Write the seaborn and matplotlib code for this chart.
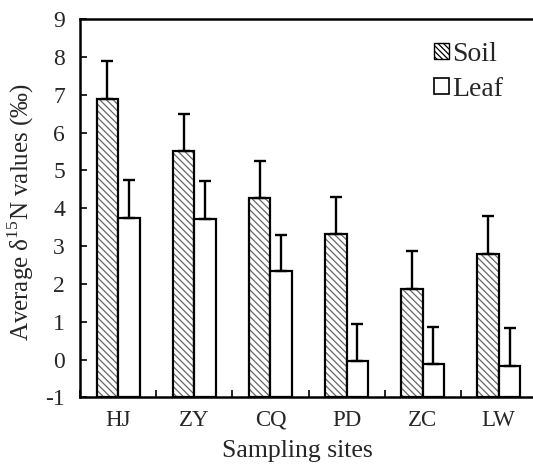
import matplotlib
matplotlib.use("Agg")
import matplotlib.pyplot as plt
import seaborn as sns
import pandas as pd
import numpy as np
from matplotlib.colors import to_rgba
from matplotlib.patches import Patch

sites = ["HJ", "ZY", "CQ", "PD", "ZC", "LW"]
soil_mean = [6.89, 5.52, 4.27, 3.33, 1.87, 2.80]
soil_err = [1.02, 0.97, 0.97, 0.97, 1.00, 0.99]
leaf_mean = [3.74, 3.71, 2.33, -0.04, -0.11, -0.17]
leaf_err = [1.00, 1.00, 0.97, 0.97, 0.97, 1.00]
series = ["Soil", "Leaf"]
yticks = [-1, 0, 1, 2, 3, 4, 5, 6, 7, 8, 9]

df = pd.DataFrame({
    "site": sites * 2,
    "kind": [series[0]] * len(sites) + [series[1]] * len(sites),
    "value": soil_mean + leaf_mean,
})

sns.set_style("white")
plt.rcParams["font.family"] = ["Liberation Serif", "DejaVu Serif"]
plt.rcParams["mathtext.fontset"] = "custom"
plt.rcParams["mathtext.rm"] = "Liberation Serif"
plt.rcParams["hatch.linewidth"] = 0.9

fig = plt.figure(figsize=(5.33, 4.67), dpi=100)
W, H = 533, 467
left, right, top, bottom = 80.3, 536.7, 19.3, 397.3
ax = fig.add_axes([left / W, 1 - bottom / H, (right - left) / W, (bottom - top) / H])

sns.barplot(data=df, x="site", y="value", hue="kind", order=sites,
            hue_order=series, palette=["white", "white"], width=0.57,
            edgecolor="black", linewidth=1.6, errorbar=None, ax=ax,
            legend=False, saturation=1)

base = -1
bars = [p for p in ax.patches]
n = len(sites)
soil_bars = bars[:n]
leaf_bars = bars[n:2 * n]
for p in bars:
    h = p.get_height()
    p.set_y(base)
    p.set_height(h - base)

for p in soil_bars:
    p.set_hatch("\\\\\\\\\\")
    try:
        p.set_hatchcolor("#666666")
    except AttributeError:
        p._hatch_color = to_rgba("#666666")

for group, means, errs in ((soil_bars, soil_mean, soil_err), (leaf_bars, leaf_mean, leaf_err)):
    xs = [p.get_x() + p.get_width() / 2 for p in group]
    ax.errorbar(xs, means, yerr=[np.zeros(len(errs)), errs], fmt="none",
                ecolor="black", elinewidth=1.7, capsize=4.5, capthick=1.7, zorder=1)

ax.set_xlim(-0.5, 5.5)
ax.set_ylim(-1, 9)
ax.set_yticks(yticks)
ax.set_yticklabels([str(t) for t in yticks])
ax.set_xticks(range(len(sites)))
ax.set_xticklabels(sites)
ax.set_xticks(np.arange(-0.5, len(sites), 1.0), minor=True)
ax.tick_params(axis="x", which="major", length=0, pad=9, labelsize=16.5)
ax.tick_params(axis="x", which="minor", direction="in", length=5, width=1.2, color="black", bottom=True)
ax.tick_params(axis="y", direction="in", length=5, width=1.2, color="black", left=True, pad=11, labelsize=17)

for s in ["left", "bottom", "top"]:
    ax.spines[s].set_visible(True)
    ax.spines[s].set_color("black")
    ax.spines[s].set_linewidth(1.8)
ax.spines["right"].set_visible(False)

ax.set_xlabel("")
ax.set_ylabel("")
fig.text(297.5 / W, 1 - 451 / H, "Sampling sites", ha="center", va="center", fontsize=18.5)
fig.text(21 / W, 1 - 212 / H, r"Average δ$^{\mathregular{15}}$N values (‰)", rotation=90,
         ha="center", va="center", fontsize=18)

handles = [Patch(facecolor="white", edgecolor="black", hatch="\\\\\\\\\\\\", linewidth=1.0),
           Patch(facecolor="white", edgecolor="black", linewidth=1.2)]
leg = ax.legend(handles, series, loc="upper left", bbox_to_anchor=(434 / W, 1 - 42 / H),
                bbox_transform=fig.transFigure, frameon=False, fontsize=20,
                handlelength=0.55, handleheight=0.5, handletextpad=0.12, labelspacing=0.35,
                borderaxespad=0, borderpad=0)

fig.savefig("out.png", dpi=100)
